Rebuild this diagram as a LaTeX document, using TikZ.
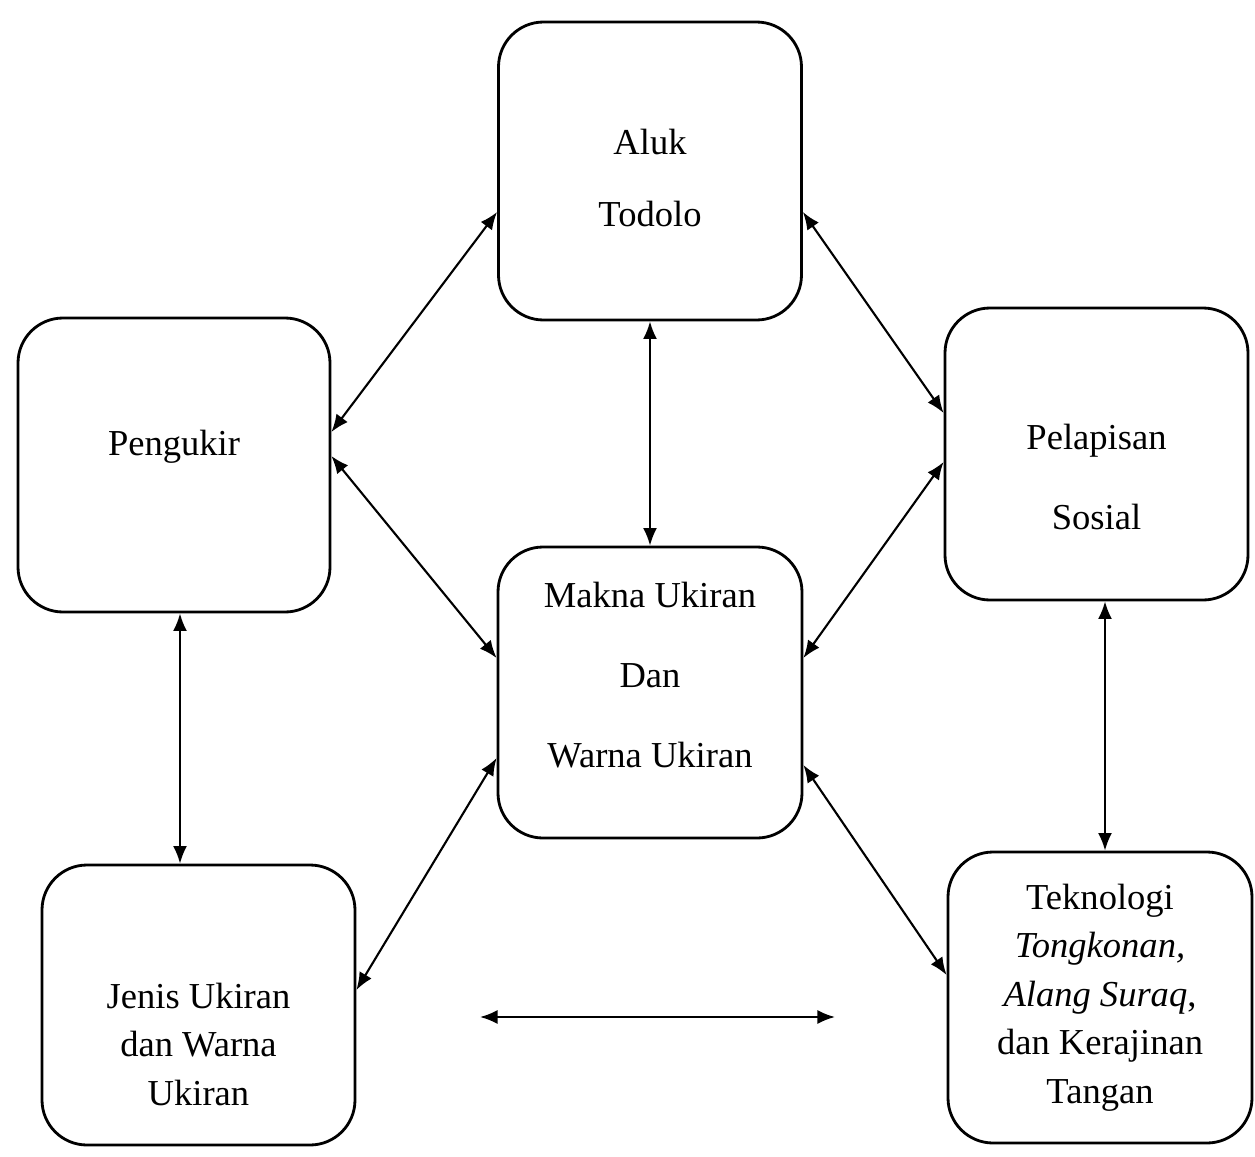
\documentclass[tikz,border=0pt]{standalone}
\usepackage{fontspec}
\setmainfont{Liberation Serif}
\usetikzlibrary{arrows.meta}
\tikzset{
        >={Latex[length=5pt,width=4pt]}, % filled arrow heads
        box/.style={draw, line width=0.8pt, rounded corners=0.45cm, minimum width=3.04cm, minimum height=2.92cm}, % rounded frame of each concept
        txt/.style={align=center, font=\fontsize{10.4}{13.8}\selectfont}, % text set inside a frame
        wide/.style={font=\fontsize{10.4}{22.8}\selectfont}, % loose line spacing
        link/.style={<->, line width=0.6pt}, % two-way relation
}

\begin{document}
\begin{tikzpicture}
      \useasboundingbox (0,0) rectangle (12.55,-11.57);
      % frames
      \node[box, minimum width=3.03cm, minimum height=2.98cm] (aluk) at (6.5,-1.71) {};
      \node[box, minimum width=3.12cm, minimum height=2.94cm] (pengukir) at (1.74,-4.65) {};
      \node[box, minimum width=3.03cm] (pelapisan) at (10.965,-4.54) {};
      \node[box, minimum height=2.91cm] (makna) at (6.5,-6.925) {};
      \node[box, minimum width=3.13cm, minimum height=2.80cm] (jenis) at (1.985,-10.05) {};
      \node[box, minimum height=2.91cm] (teknologi) at (11.0,-9.975) {};
      % texts
      \node[txt, font=\fontsize{10.4}{20.5}\selectfont] (aluk-t) at ([yshift=-0.07cm]aluk.center) {Aluk\\Todolo};
      \node[txt] (pengukir-t) at ([yshift=0.18cm]pengukir.center) {Pengukir};
      \node[txt, wide] (pelapisan-t) at ([yshift=-0.23cm]pelapisan.center) {Pelapisan\\Sosial};
      \node[txt, wide] (makna-t) at ([yshift=0.175cm]makna.center) {Makna Ukiran\\Dan\\Warna Ukiran};
      \node[txt] (jenis-t) at ([yshift=-0.39cm]jenis.center) {Jenis Ukiran\\dan Warna\\Ukiran};
      \node[txt] (teknologi-t) at (teknologi.center) {Teknologi\\\textit{Tongkonan,}\\\textit{Alang Suraq},\\dan Kerajinan\\Tangan};
      % relations
      \draw[link] ([yshift=-0.41cm]aluk.west) -- ([yshift=0.33cm]pengukir.east);
      \draw[link] (aluk.south) -- (makna.north);
      \draw[link] ([yshift=-0.41cm]aluk.east) -- ([yshift=0.41cm]pelapisan.west);
      \draw[link] ([yshift=0.09cm]pengukir.east) -- ([yshift=0.345cm]makna.west);
      \draw[link] ([yshift=-0.08cm]pelapisan.west) -- ([yshift=0.345cm]makna.east);
      \draw[link] ([xshift=0.06cm]pengukir.south) -- ([xshift=-0.185cm]jenis.north);
      \draw[link] ([xshift=0.085cm]pelapisan.south) -- ([xshift=0.05cm]teknologi.north);
      \draw[link] ([yshift=0.15cm]jenis.east) -- ([yshift=-0.655cm]makna.west);
      \draw[link] ([yshift=-0.725cm]makna.east) -- ([yshift=0.225cm]teknologi.west);
      \coordinate (free-l) at (4.8,-10.17);
      \coordinate (free-r) at (8.35,-10.17);
      \draw[link] (free-l) -- (free-r);
\end{tikzpicture}
\end{document}
